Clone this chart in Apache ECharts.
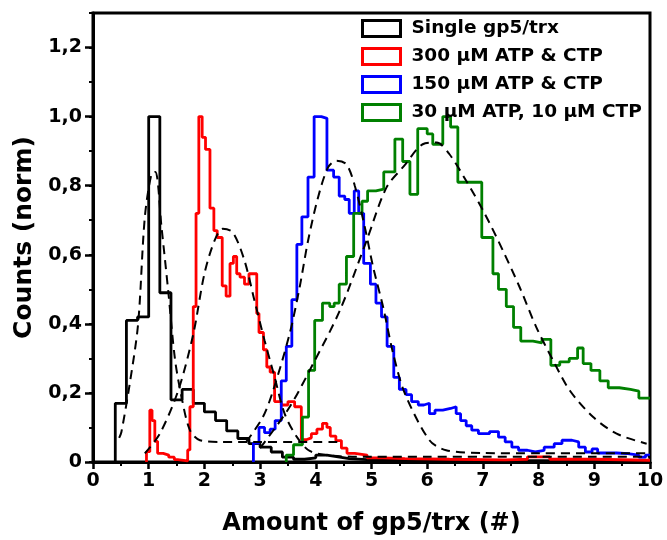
<!DOCTYPE html>
<html>
<head>
<meta charset="utf-8">
<script src="https://cdn.jsdelivr.net/npm/echarts@6/dist/echarts.min.js"></script>
<style>
html,body{margin:0;padding:0;background:#fff;}
#chart{width:667px;height:540px;}
</style>
</head>
<body>
<div id="chart"></div>
<script>
// ---- Data ----
const seriesNames = ['Single gp5/trx', '300 µM ATP & CTP', '150 µM ATP & CTP', '30 µM ATP, 10 µM CTP'];
const seriesColors = ['#000000', '#ff0000', '#0000ff', '#008000'];

const xTicks = [0,1,2,3,4,5,6,7,8,9,10];
const yTickLabels = ['0','0,2','0,4','0,6','0,8','1,0','1,2'];
const yMajorTicks = [0,0.2,0.4,0.6,0.8,1.0,1.2];

// Histogram bin edges (n+1) and normalized counts (n)
const blackEdges = [0.4,0.6,0.8,1.0,1.2,1.4,1.6,1.8,2.0,2.2,2.4,2.6,2.8,3.0,3.2,3.4,3.6,3.8,4.0,4.2,4.4,4.6,5.0,6.0,7.0,8.0,9.0,10.0];
const blackCounts = [0.17,0.41,0.42,1.0,0.49,0.18,0.21,0.17,0.145,0.12,0.09,0.068,0.053,0.043,0.029,0.014,0.008,0.012,0.02,0.015,0.01,0.006,0.005,0.004,0.004,0.003,0.003];

const redEdges = [0.96,1.02,1.06,1.11,1.16,1.26,1.36,1.46,1.52,1.70,1.74,1.80,1.85,1.90,1.96,2.02,2.10,2.17,2.23,2.32,2.39,2.46,2.52,2.58,2.64,2.72,2.80,2.94,2.98,3.06,3.12,3.18,3.26,3.38,3.50,3.62,3.74,3.84,3.92,4.02,4.12,4.20,4.26,4.36,4.46,4.56,4.70,4.92,5.2,5.6,6.4,7.4,7.8,8.2,9.0,10.0];
const redCounts = [0.03,0.15,0.12,0.06,0.025,0.02,0.014,0.007,0.003,0.035,0.16,0.45,0.72,1.0,0.94,0.905,0.735,0.67,0.65,0.51,0.48,0.575,0.595,0.545,0.535,0.515,0.545,0.43,0.375,0.325,0.275,0.26,0.175,0.165,0.175,0.16,0.065,0.07,0.082,0.095,0.112,0.1,0.075,0.062,0.04,0.025,0.02,0.012,0.01,0.008,0.006,0.008,0.015,0.008,0.005];

const blueEdges = [2.88,2.98,3.08,3.18,3.27,3.38,3.47,3.57,3.66,3.75,3.86,3.97,4.10,4.20,4.32,4.42,4.52,4.60,4.69,4.77,4.86,4.98,5.08,5.18,5.28,5.40,5.50,5.62,5.72,5.84,5.94,6.04,6.14,6.28,6.42,6.52,6.60,6.70,6.80,6.92,7.12,7.28,7.40,7.52,7.64,7.80,7.94,8.10,8.28,8.42,8.60,8.72,8.84,8.96,9.06,9.40,9.60,9.80,9.92,10.0];
const blueCounts = [0.055,0.1,0.085,0.095,0.12,0.235,0.335,0.47,0.63,0.71,0.825,1.0,0.995,0.845,0.825,0.77,0.76,0.72,0.785,0.72,0.575,0.515,0.46,0.42,0.335,0.245,0.21,0.195,0.175,0.165,0.17,0.14,0.15,0.155,0.16,0.14,0.12,0.105,0.092,0.082,0.088,0.072,0.058,0.043,0.034,0.029,0.034,0.043,0.053,0.063,0.058,0.043,0.029,0.038,0.026,0.024,0.02,0.014,0.02];

const greenEdges = [3.47,3.60,3.76,3.87,3.98,4.12,4.25,4.33,4.42,4.55,4.68,4.83,4.93,5.08,5.22,5.42,5.56,5.69,5.83,6.00,6.10,6.28,6.42,6.55,6.98,7.18,7.28,7.42,7.55,7.68,7.90,8.06,8.22,8.38,8.55,8.70,8.80,8.94,9.10,9.25,9.45,9.65,9.80,10.0];
const greenCounts = [0.02,0.05,0.13,0.265,0.41,0.46,0.45,0.46,0.515,0.595,0.72,0.755,0.785,0.79,0.84,0.935,0.87,0.775,0.965,0.95,0.92,1.0,0.97,0.81,0.65,0.545,0.5,0.45,0.39,0.35,0.345,0.355,0.28,0.29,0.30,0.33,0.285,0.265,0.235,0.215,0.21,0.205,0.185];

// Fitted curves (dashed)
const blackFitX = [0.47,0.51,0.66,0.81,0.93,1.05,1.12,1.23,1.35,1.47,1.59,1.74,1.92,2.3,3.0,4.45];
const blackFitY = [0.07,0.087,0.227,0.40,0.708,0.834,0.84,0.68,0.496,0.30,0.188,0.092,0.063,0.058,0.058,0.058];
const redFitX = [0.93,1.2,1.53,1.80,2.0,2.18,2.33,2.51,2.72,2.90,3.08,3.26,3.44,3.65,3.89,4.3,5,6,7,8,9,10];
const redFitY = [0.025,0.082,0.207,0.37,0.545,0.64,0.675,0.665,0.583,0.467,0.352,0.246,0.14,0.075,0.032,0.018,0.015,0.015,0.015,0.015,0.015,0.015];
const blueFitX = [2.75,3.05,3.23,3.53,3.71,3.86,4.04,4.22,4.37,4.55,4.70,4.88,5.03,5.21,5.39,5.6,6.04,6.34,7,8,9,10];
const blueFitY = [0.058,0.13,0.205,0.371,0.506,0.64,0.766,0.853,0.872,0.862,0.80,0.68,0.564,0.448,0.313,0.198,0.063,0.034,0.026,0.025,0.025,0.025];
const greenFitX = [3.0,3.53,3.95,4.43,4.91,5.27,5.6,5.92,6.17,6.4,6.7,7.03,7.36,7.66,7.96,8.26,8.56,8.98,9.4,9.94];
const greenFitY = [0.04,0.159,0.284,0.438,0.64,0.795,0.86,0.92,0.925,0.891,0.814,0.72,0.612,0.506,0.39,0.294,0.207,0.13,0.082,0.053];

// ---- Build ----
function stepPoints(edges, counts) {
  const pts = [[edges[0], 0]];
  for (let i = 0; i < counts.length; i++) pts.push([edges[i], counts[i]]);
  pts.push([edges[edges.length - 1], counts[counts.length - 1]]);
  return pts;
}
function zipXY(xs, ys) { return xs.map((x, i) => [x, ys[i]]); }

const hists = [[blackEdges, blackCounts], [redEdges, redCounts], [blueEdges, blueCounts], [greenEdges, greenCounts]];
const fits = [[blackFitX, blackFitY], [redFitX, redFitY], [blueFitX, blueFitY], [greenFitX, greenFitY]];

const FONT = 'DejaVu Sans';
const series = [];
hists.forEach((h, i) => {
  series.push({
    name: seriesNames[i], type: 'line', step: 'end', showSymbol: false, symbol: 'none',
    data: stepPoints(h[0], h[1]),
    lineStyle: { color: seriesColors[i], width: 2.8 },
    itemStyle: { color: seriesColors[i] },
    silent: true, z: 2
  });
});
fits.forEach((f, i) => {
  series.push({
    name: 'fit' + i, type: 'line', smooth: 0.3, showSymbol: false, symbol: 'none',
    data: zipXY(f[0], f[1]),
    lineStyle: { color: '#000', width: 2, type: [9, 6] },
    silent: true, z: 3
  });
});

const chart = echarts.init(document.getElementById('chart'), null, { renderer: 'canvas' });
chart.setOption({
  animation: false,
  backgroundColor: '#fff',
  grid: { left: 93, right: 17, top: 13, bottom: 78, show: true, borderColor: '#000', borderWidth: 3, backgroundColor: 'transparent', outerBoundsMode: 'none' },
  legend: {
    orient: 'vertical', left: 361, top: 19, padding: 0, itemWidth: 38, itemHeight: 16, itemGap: 9, icon: 'rect',
    textStyle: { fontFamily: FONT, fontWeight: 'bold', fontSize: 18.5, color: '#000', lineHeight: 16, padding: [0, 0, 0, 6] },
    data: seriesNames.map((n, i) => ({ name: n, itemStyle: { color: '#fff', borderColor: seriesColors[i], borderWidth: 3 } }))
  },
  xAxis: {
    type: 'value', min: xTicks[0], max: xTicks[xTicks.length - 1], interval: 1,
    axisLine: { lineStyle: { color: '#000', width: 3 } },
    axisTick: { length: 7, lineStyle: { color: '#000', width: 2.5 } },
    minorTick: { show: true, splitNumber: 2, length: 4, lineStyle: { color: '#000', width: 2 } },
    splitLine: { show: false }, minorSplitLine: { show: false },
    axisLabel: { fontFamily: FONT, fontWeight: 'bold', fontSize: 19, color: '#000', margin: 10 },
    name: 'Amount of gp5/trx (#)', nameLocation: 'middle', nameGap: 50,
    nameTextStyle: { fontFamily: FONT, fontWeight: 'bold', fontSize: 24, color: '#000' }
  },
  yAxis: [{
    type: 'value', min: 0, max: 1.3, interval: 0.1,
    axisLine: { lineStyle: { color: '#000', width: 3 } },
    axisTick: { length: 4, lineStyle: { color: '#000', width: 2 } },
    splitLine: { show: false },
    axisLabel: {
      fontFamily: FONT, fontWeight: 'bold', fontSize: 19, color: '#000', margin: 11,
      formatter: function (v) {
        const idx = yMajorTicks.findIndex(t => Math.abs(t - v) < 1e-6);
        return idx >= 0 ? yTickLabels[idx] : '';
      }
    },
    name: 'Counts (norm)', nameLocation: 'middle', nameGap: 52,
    nameTextStyle: { fontFamily: FONT, fontWeight: 'bold', fontSize: 25, color: '#000' }
  }, {
    type: 'value', min: 0, max: 1.3, interval: 0.1, position: 'left',
    axisLine: { show: false },
    axisTick: { show: true, length: 8, lineStyle: { color: '#000', width: 2.5 }, customValues: yMajorTicks },
    axisLabel: { show: false },
    splitLine: { show: false }
  }],
  series: series
});
</script>
</body>
</html>
